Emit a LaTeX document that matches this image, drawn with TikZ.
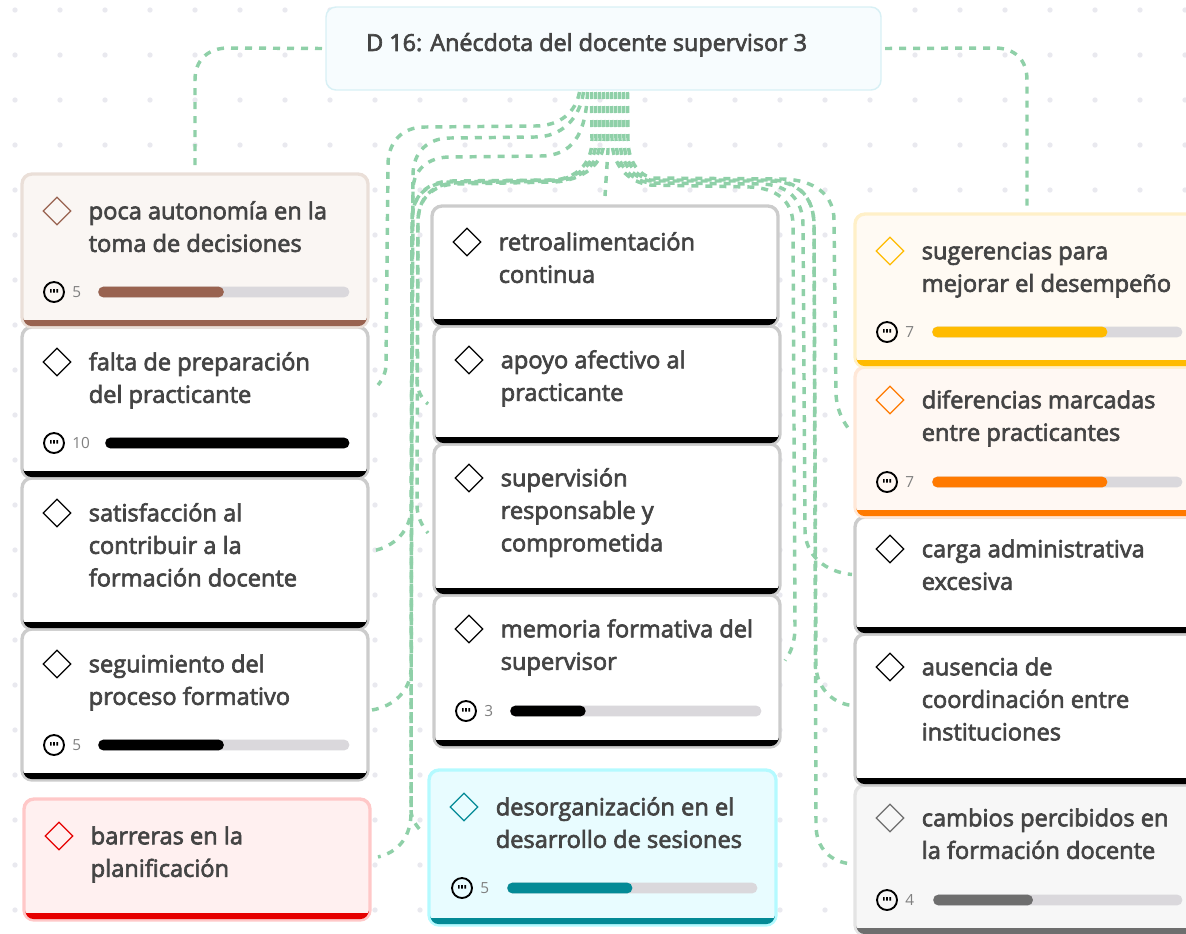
\documentclass[tikz,border=0pt]{standalone}
\usepackage{fontspec}
\setmainfont{Open Sans}[FakeBold=2.8]
\newfontfamily\plainfont{Open Sans}
\usetikzlibrary{shapes.geometric}

\definecolor{inkText}{HTML}{444444}
\definecolor{linkGreen}{HTML}{8FD0A8}
\definecolor{trackGrey}{HTML}{DAD8DC}
\definecolor{gridDot}{HTML}{E9E9EF}
\definecolor{rootFill}{HTML}{F7FCFE}
\definecolor{rootEdge}{HTML}{D8F0F5}
\definecolor{plainMain}{HTML}{000000}
\definecolor{plainFill}{HTML}{FFFFFF}
\definecolor{plainEdge}{HTML}{CCCCCC}
\definecolor{brownMain}{HTML}{996350}
\definecolor{brownFill}{HTML}{FAF6F3}
\definecolor{brownEdge}{HTML}{EADFD8}
\definecolor{redMain}{HTML}{E60000}
\definecolor{redFill}{HTML}{FFF0F0}
\definecolor{redEdge}{HTML}{FFC8C8}
\definecolor{tealMain}{HTML}{038A96}
\definecolor{tealFill}{HTML}{E8FCFF}
\definecolor{tealEdge}{HTML}{B4FAFF}
\definecolor{yellowMain}{HTML}{FFBB00}
\definecolor{yellowFill}{HTML}{FFFAF3}
\definecolor{yellowEdge}{HTML}{FFF0C8}
\definecolor{orangeMain}{HTML}{FF7A00}
\definecolor{orangeFill}{HTML}{FFF8F3}
\definecolor{orangeEdge}{HTML}{FFE8D8}
\definecolor{greyMain}{HTML}{6E6E6E}
\definecolor{greyFill}{HTML}{F7F7F7}
\definecolor{greyEdge}{HTML}{E4E4E4}

% card: name, tone, x1, y1, x2, y2, first line y, text
\newcommand{\carditem}[8]{
    \node[card, draw=#2Edge, fill=#2Fill, minimum width={(#5-#3)*0.75pt}, minimum height={(#6-#4)*0.75pt}] (#1) at (#3,#4) {};
    \fill[#2Main] (#3+1.5,#6-7) -- (#5-1.5,#6-7) [rounded corners=6pt] -- (#5-1.5,#6-1) -- (#3+1.5,#6-1) [sharp corners] -- cycle;
    \node[gem, draw=#2Main] (#1gem) at (#3+35,#7) {};
    \node[title] (#1title) at (#3+66.5,#7-13.3) {\rule{0pt}{16pt}#8};
}
% footer: name, tone, icon x, y, number, bar x1, bar x2, share
\newcommand{\footitem}[8]{
    \node[icon] (#1icon) at (#3,#4) {};
    \fill (#3-4,#4-3) rectangle ++(1.6,3.5) (#3-0.8,#4-3) rectangle ++(1.6,3.5) (#3+2.4,#4-3) rectangle ++(1.6,3.5);
    \node[tally] (#1tally) at (#3+18,#4) {#5};
    \node[bar, fill=trackGrey, minimum width={(#7-#6)*0.75pt}] (#1track) at (#6,#4) {};
    \node[bar, fill=#2Main, minimum width={(#7-#6)*#8*0.75pt}] (#1share) at (#6,#4) {};
}

\begin{document}
\begin{tikzpicture}[x=0.75pt, y=-0.75pt,
    card/.style = {draw, line width=2.5pt, rounded corners=7.5pt, anchor=north west, inner sep=0pt, outer sep=0pt},
    gem/.style = {diamond, draw, line width=1pt, minimum width=21pt, minimum height=21pt, inner sep=0pt},
    title/.style = {anchor=north west, align=left, inner sep=0pt, text=inkText, font=\fontsize{17.7}{24.4}\selectfont},
    icon/.style = {circle, draw, line width=1.4pt, minimum size=15pt, inner sep=0pt},
    tally/.style = {anchor=west, inner sep=0pt, text=gray, font=\plainfont\fontsize{11.5}{14}\selectfont},
    bar/.style = {anchor=west, rounded corners=3.75pt, minimum height=8pt, inner sep=0pt},
    link/.style = {draw=linkGreen, line width=2.6pt, dash pattern=on 5.25pt off 5.25pt}]

    \clip (0,0) rectangle (1186,933);
    % Background dots
    \foreach \i in {0,...,26} \foreach \j in {0,...,20}
        \fill[gridDot] (15+45*\i,10+45*\j) circle (2pt);

    % Root
    \node[card, draw=rootEdge, fill=rootFill, line width=1.1pt, minimum width=416.25pt, minimum height=62.25pt] (root) at (326,7) {};
    \node[title, font=\fontsize{17.5}{24.4}\selectfont] (roottitle) at (366,32) {\rule{0pt}{14pt}D 16: Anécdota del docente supervisor 3};

    % Left column
    \carditem{barreras}{red}{24}{799}{370}{920}{836}{barreras en la\\planificación}
    \carditem{seguimiento}{plain}{22}{629}{368}{780}{664}{seguimiento del\\proceso formativo}
    \footitem{seguimiento}{plain}{54}{745}{5}{98}{349}{0.5}
    \carditem{satisfaccion}{plain}{22}{478}{368}{629}{513}{satisfacción al\\contribuir a la\\formación docente}
    \carditem{falta}{plain}{22}{327}{368}{478}{362}{falta de preparación\\del practicante}
    \footitem{falta}{plain}{54}{443}{10}{105}{349}{1}
    \carditem{poca}{brown}{22}{174}{368}{327}{211}{poca autonomía en la\\toma de decisiones}
    \footitem{poca}{brown}{54}{292}{5}{98}{349}{0.5}

    % Middle column
    \carditem{desorganizacion}{teal}{429}{770}{776}{925}{807}{desorganización en el\\desarrollo de sesiones}
    \footitem{desorganizacion}{teal}{462}{888}{5}{507}{757}{0.5}
    \carditem{memoria}{plain}{434}{595}{780}{747}{629}{memoria formativa del\\supervisor}
    \footitem{memoria}{plain}{466}{711}{3}{510}{761}{0.3}
    \carditem{supervision}{plain}{434}{444}{780}{595}{478}{supervisión\\responsable y\\comprometida}
    \carditem{apoyo}{plain}{434}{326}{780}{444}{360}{apoyo afectivo al\\practicante}
    \carditem{retro}{plain}{432}{206}{778}{326}{242}{retroalimentación\\continua}

    % Right column
    \carditem{cambios}{grey}{855}{785}{1201}{935}{818}{cambios percibidos en\\la formación docente}
    \footitem{cambios}{grey}{887}{900}{4}{933}{1182}{0.4}
    \carditem{ausencia}{plain}{855}{634}{1201}{785}{667}{ausencia de\\coordinación entre\\instituciones}
    \carditem{carga}{plain}{855}{517}{1201}{634}{549}{carga administrativa\\excesiva}
    \carditem{diferencias}{orange}{855}{367}{1201}{517}{400}{diferencias marcadas\\entre practicantes}
    \footitem{diferencias}{orange}{887}{482}{7}{932}{1182}{0.7}
    \carditem{sugerencias}{yellow}{855}{214}{1201}{367}{251}{sugerencias para\\mejorar el desempeño}
    \footitem{sugerencias}{yellow}{887}{332}{7}{932}{1182}{0.7}

    % Links leaving the sides of the root
    \draw[link] ([shift={(-4,0)}]root.west) -- (228,48) .. controls (208,48) and (195,60) .. (195,80) -- ([shift={(0,-6)}]poca.north);
    \draw[link] ([shift={(4,0)}]root.east) -- (995,48) .. controls (1015,48) and (1027,60) .. (1027,80) -- ([shift={(-1,-3)}]sugerencias.north);

    % Links to the left
    \draw[link] ([shift={(-24,2)}]root.south) .. controls (576,112) and (560,126) .. (535,126) -- (425,127) .. controls (402,127) and (388,142) .. (388,165) -- (386,365) .. controls (386,372) and (383,379) .. ([shift={(10,-17.5)}]falta.east);
    \draw[link] ([shift={(-20,2)}]root.south) .. controls (580,118) and (562,137) .. (535,137) -- (450,138) .. controls (428,138) and (413,152) .. (413,175) -- (411,510) .. controls (410,530) and (395,547) .. ([shift={(4,-2.5)}]satisfaccion.east);
    \draw[link] ([shift={(-16,2)}]root.south) .. controls (586,135) and (572,156) .. (540,156) -- (450,157) .. controls (428,157) and (413,170) .. (413,190) -- (411,670) .. controls (410,690) and (395,706) .. ([shift={(4,5.5)}]seguimiento.east);
    \draw[link] ([shift={(-12,2)}]root.south) -- (592,140) .. controls (592,165) and (575,178) .. (555,180) -- (450,182) .. controls (428,183) and (412,195) .. (412,220) -- (411,815) .. controls (410,838) and (398,852) .. ([shift={(8,-2.5)}]barreras.east);
    \draw[link] ([shift={(-8,2)}]root.south) -- (596,140) .. controls (596,165) and (578,178) .. (555,180) -- (450,181) .. controls (428,182) and (412,195) .. (412,220) -- (411,810) .. controls (411,818) and (416,826) .. ([shift={(-6,-14.5)}]desorganizacion.west);
    \draw[link] ([shift={(-4,2)}]root.south) -- (600,140) .. controls (600,165) and (580,180) .. (555,181) -- (455,183) .. controls (433,184) and (418,197) .. (418,222) -- (417,505) .. controls (417,515) and (421,525) .. ([shift={(-6,13.5)}]supervision.west);
    \draw[link] ([shift={(0,2)}]root.south) -- (604,140) .. controls (604,165) and (582,180) .. (555,182) -- (455,184) .. controls (433,185) and (418,198) .. (418,222) -- (417,380) .. controls (417,390) and (421,398) .. ([shift={(-6,19)}]apoyo.west);

    % Link straight down
    \draw[link] ([shift={(4,2)}]root.south) -- (608,150) -- ([shift={(0,-10)}]retro.north);

    % Links to the right
    \draw[link] ([shift={(8,2)}]root.south) -- (612,140) .. controls (612,165) and (628,182) .. (650,185) -- (750,187) .. controls (775,188) and (793,200) .. (793,225) -- (795,627) .. controls (795,640) and (792,651) .. ([shift={(5,-10.5)}]memoria.east);
    \draw[link] ([shift={(12,2)}]root.south) -- (616,140) .. controls (616,165) and (630,180) .. (650,183) -- (760,184) .. controls (788,184) and (803,200) .. (803,225) -- (805,530) .. controls (805,555) and (825,572) .. ([shift={(-3,-1)}]carga.west);
    \draw[link] ([shift={(16,2)}]root.south) -- (620,140) .. controls (620,162) and (632,178) .. (650,181) -- (770,181) .. controls (798,181) and (814,197) .. (814,225) -- (816,665) .. controls (816,685) and (830,703) .. ([shift={(-3,-4)}]ausencia.west);
    \draw[link] ([shift={(20,2)}]root.south) -- (624,140) .. controls (624,160) and (634,176) .. (650,180) -- (770,180) .. controls (798,180) and (814,197) .. (814,225) -- (816,825) .. controls (816,848) and (830,862) .. ([shift={(-3,4)}]cambios.west);
    \draw[link] ([shift={(24,2)}]root.south) -- (628,140) .. controls (628,158) and (636,174) .. (652,178) -- (783,179) .. controls (815,180) and (834,195) .. (834,220) -- (836,395) .. controls (837,408) and (841,418) .. ([shift={(-7,-14)}]diferencias.west);

\end{tikzpicture}
\end{document}
